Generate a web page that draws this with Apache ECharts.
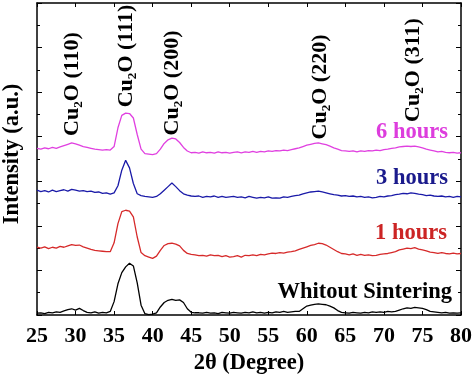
<!DOCTYPE html>
<html>
<head>
<meta charset="utf-8">
<script src="https://cdn.jsdelivr.net/npm/echarts@6/dist/echarts.min.js"></script>
<style>
html,body{margin:0;padding:0;background:#fff;}
#chart{width:474px;height:374px;}
</style>
</head>
<body>
<div id="chart"></div>
<script>
// 2θ angles (degrees)
var angles = [
25,25.5,26,26.5,27,27.5,28,28.5,29,29.5,
30,30.5,31,31.5,32,32.5,33,33.5,34,34.5,
35,35.5,36,36.5,37,37.5,38,38.5,39,39.5,
40,40.5,41,41.5,42,42.5,43,43.5,44,44.5,
45,45.5,46,46.5,47,47.5,48,48.5,49,49.5,
50,50.5,51,51.5,52,52.5,53,53.5,54,54.5,
55,55.5,56,56.5,57,57.5,58,58.5,59,59.5,
60,60.5,61,61.5,62,62.5,63,63.5,64,64.5,
65,65.5,66,66.5,67,67.5,68,68.5,69,69.5,
70,70.5,71,71.5,72,72.5,73,73.5,74,74.5,
75,75.5,76,76.5,77,77.5,78,78.5,79,79.5,
80];

var withoutSintering = [
0.04,0.05,0.03,0.06,0.05,0.07,0.06,0.09,0.12,0.14,
0.11,0.15,0.10,0.06,0.05,0.07,0.04,0.06,0.05,0.08,
0.30,0.70,0.95,1.08,1.16,1.10,0.72,0.22,0.03,0.01,
0.02,0.05,0.18,0.28,0.33,0.35,0.33,0.34,0.28,0.14,
0.06,0.05,0.05,0.04,0.06,0.04,0.05,0.03,0.06,0.05,
0.04,0.06,0.05,0.04,0.06,0.05,0.07,0.05,0.06,0.04,
0.06,0.05,0.07,0.06,0.08,0.06,0.07,0.08,0.08,0.14,
0.20,0.22,0.24,0.25,0.24,0.23,0.20,0.16,0.10,0.06,
0.05,0.04,0.06,0.05,0.04,0.06,0.05,0.07,0.06,0.07,
0.06,0.08,0.07,0.08,0.11,0.14,0.16,0.15,0.17,0.16,
0.15,0.12,0.08,0.07,0.06,0.05,0.06,0.04,0.05,0.04,
0.05];

var hours1 = [
1.52,1.50,1.53,1.49,1.52,1.50,1.54,1.52,1.55,1.58,
1.56,1.57,1.53,1.50,1.47,1.45,1.44,1.43,1.42,1.42,
1.62,2.05,2.32,2.35,2.33,2.20,1.75,1.40,1.33,1.30,
1.27,1.32,1.45,1.56,1.60,1.61,1.59,1.55,1.45,1.38,
1.36,1.35,1.33,1.34,1.32,1.35,1.33,1.34,1.31,1.33,
1.30,1.31,1.33,1.30,1.34,1.33,1.35,1.33,1.36,1.35,
1.37,1.39,1.38,1.40,1.39,1.41,1.42,1.44,1.47,1.50,
1.53,1.56,1.58,1.61,1.60,1.57,1.52,1.47,1.42,1.38,
1.37,1.35,1.37,1.34,1.36,1.34,1.35,1.33,1.34,1.36,
1.37,1.38,1.40,1.42,1.46,1.48,1.50,1.49,1.51,1.48,
1.46,1.44,1.41,1.40,1.38,1.40,1.38,1.37,1.39,1.37,
1.38];

var hours3 = [
2.80,2.77,2.79,2.76,2.80,2.77,2.79,2.81,2.78,2.82,
2.80,2.78,2.79,2.77,2.78,2.75,2.76,2.73,2.74,2.71,
2.74,2.90,3.25,3.47,3.30,2.95,2.72,2.68,2.66,2.65,
2.64,2.66,2.72,2.80,2.88,2.96,2.88,2.79,2.72,2.69,
2.67,2.66,2.67,2.64,2.66,2.65,2.67,2.64,2.66,2.64,
2.65,2.66,2.64,2.65,2.63,2.66,2.64,2.62,2.64,2.63,
2.65,2.62,2.63,2.62,2.65,2.64,2.66,2.68,2.69,2.72,
2.74,2.76,2.77,2.78,2.76,2.74,2.72,2.70,2.69,2.67,
2.68,2.66,2.67,2.65,2.66,2.64,2.65,2.63,2.64,2.66,
2.65,2.67,2.68,2.70,2.71,2.73,2.72,2.74,2.73,2.71,
2.70,2.68,2.69,2.67,2.66,2.67,2.65,2.66,2.64,2.66,
2.65];

var hours6 = [
3.74,3.72,3.75,3.73,3.76,3.74,3.77,3.80,3.83,3.86,
3.84,3.81,3.78,3.76,3.74,3.72,3.71,3.70,3.71,3.70,
3.78,4.20,4.48,4.53,4.52,4.42,4.05,3.72,3.62,3.61,
3.60,3.62,3.72,3.85,3.93,3.97,3.95,3.87,3.76,3.68,
3.64,3.65,3.63,3.66,3.64,3.65,3.63,3.66,3.64,3.65,
3.63,3.65,3.66,3.64,3.66,3.65,3.67,3.65,3.67,3.66,
3.68,3.67,3.69,3.68,3.70,3.69,3.71,3.73,3.75,3.78,
3.81,3.83,3.85,3.86,3.84,3.82,3.79,3.75,3.72,3.69,
3.68,3.67,3.68,3.66,3.68,3.67,3.69,3.68,3.70,3.69,
3.71,3.72,3.74,3.75,3.77,3.78,3.79,3.78,3.79,3.77,
3.75,3.72,3.70,3.68,3.66,3.67,3.65,3.64,3.65,3.63,
3.64];

var seriesNames = ['Whitout Sintering', '1 hours', '3 hours', '6 hours'];
var peakLabels = ['Cu\u2082O (110)', 'Cu\u2082O (111)', 'Cu\u2082O (200)', 'Cu\u2082O (220)', 'Cu\u2082O (311)'];
var xTicks = [25,30,35,40,45,50,55,60,65,70,75,80];
var yTitle = 'Intensity (a.u.)';
var xTitle = '2\u03b8 (Degree)';

var FONT = '"Liberation Serif","Times New Roman",serif';
function pairs(vals){ return angles.map(function(a,i){ return [a, vals[i]]; }); }

var lineColors = ['#000000', '#d62a2a', '#1a1aa8', '#e040e0'];
var labelColors = ['#000000', '#cc2424', '#1a1a8c', '#dd3ddd'];
var allSeries = [withoutSintering, hours1, hours3, hours6];

var chart = echarts.init(document.getElementById('chart'), null, {renderer:'canvas'});

var axisLineStyle = {color:'#000', width:1.5};
var option = {
  animation:false,
  backgroundColor:'#fff',
  grid:{left:37, right:13, top:3, bottom:59, containLabel:false, outerBoundsMode:'none'},
  xAxis:[{
    type:'value', min:25, max:80, interval:5, position:'bottom',
    axisLine:{show:true, onZero:false, lineStyle:axisLineStyle},
    axisTick:{show:true, inside:true, length:4, lineStyle:{color:'#000', width:1}},
    axisLabel:{show:true, margin:10, color:'#000', fontFamily:FONT, fontWeight:'bold', fontSize:22,
      formatter:function(v){ return xTicks.indexOf(v)>=0 ? String(v) : ''; }},
    splitLine:{show:false},
    name:xTitle, nameLocation:'middle', nameGap:23,
    nameTextStyle:{color:'#000', fontFamily:FONT, fontWeight:'bold', fontSize:22.5}
  },{
    type:'value', min:25, max:80, interval:5, position:'top',
    axisLine:{show:true, onZero:false, lineStyle:axisLineStyle},
    axisTick:{show:true, inside:true, length:4, lineStyle:{color:'#000', width:1}},
    axisLabel:{show:false}, splitLine:{show:false}
  }],
  yAxis:[{
    type:'value', min:0, max:7, interval:1, position:'left',
    axisLine:{show:true, onZero:false, lineStyle:axisLineStyle},
    axisTick:{show:true, inside:true, length:5, lineStyle:{color:'#000', width:1}},
    minorTick:{show:true, splitNumber:2, length:3, lineStyle:{color:'#000', width:1}},
    axisLabel:{show:false}, splitLine:{show:false}
  },{
    type:'value', min:0, max:7, interval:1, position:'right',
    axisLine:{show:true, onZero:false, lineStyle:axisLineStyle},
    axisTick:{show:true, inside:true, length:5, lineStyle:{color:'#000', width:1}},
    minorTick:{show:true, splitNumber:2, length:3, lineStyle:{color:'#000', width:1}},
    axisLabel:{show:false}, splitLine:{show:false}
  }],
  series: allSeries.map(function(vals, i){
    return {
      name: seriesNames[i], type:'line', data: pairs(vals),
      xAxisIndex:0, yAxisIndex:0, symbol:'none', smooth:false,
      lineStyle:{color:lineColors[i], width:1.3}, z: 2
    };
  })
};

// text layout (pixel positions)
var seriesLabelPos = [[452,292],[447,233],[448,178],[448,132]];
var peakLabelPos = [[72,84],[126,56],[172,83],[320,87],[413,70]];
var graphics = [];
graphics.push({type:'text', x:12, y:154, rotation:Math.PI/2, z:10,
  style:{text:yTitle, fill:'#000', font:'bold 22.5px '+FONT, textAlign:'center', textVerticalAlign:'middle'}});
seriesNames.forEach(function(n, i){
  graphics.push({type:'text', x:seriesLabelPos[i][0], y:seriesLabelPos[i][1], z:10,
    style:{text:n, fill:labelColors[i], font:'bold 22.5px '+FONT, textAlign:'right', textVerticalAlign:'middle'}});
});
peakLabels.forEach(function(t, i){
  graphics.push({type:'text', x:peakLabelPos[i][0], y:peakLabelPos[i][1], rotation:Math.PI/2, z:10,
    style:{text:t, fill:'#000', font:'bold 22px '+FONT, textAlign:'center', textVerticalAlign:'middle'}});
});
option.graphic = graphics;

chart.setOption(option);
</script>
</body>
</html>
